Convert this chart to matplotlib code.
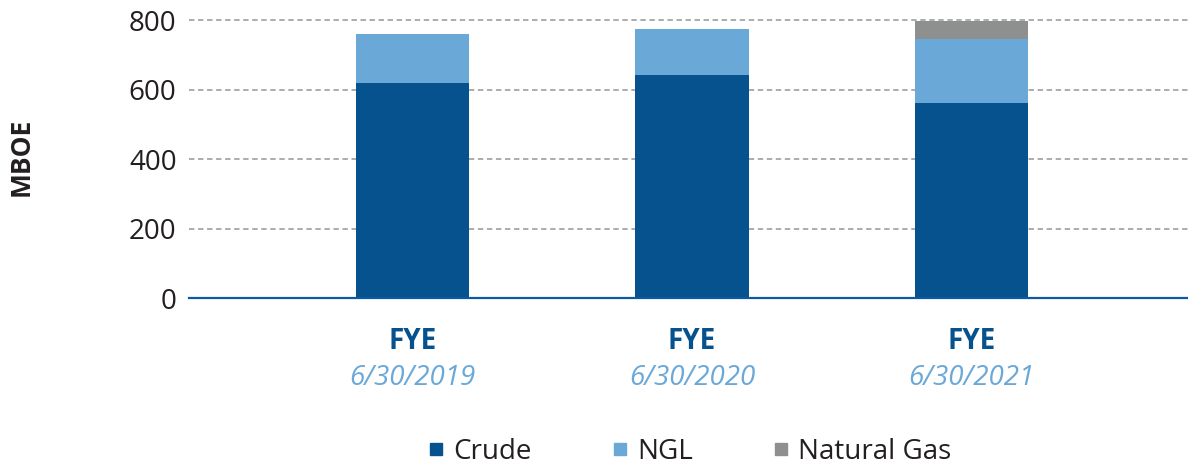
import matplotlib
matplotlib.use('Agg')
import matplotlib.pyplot as plt
from matplotlib.lines import Line2D
import numpy as np

# values (MBOE)
years = ['6/30/2019', '6/30/2020', '6/30/2021']
crude = [620, 643, 562]
ngl = [140, 132, 183]
natural_gas = [0, 0, 54]

series_names = ['Crude', 'NGL', 'Natural Gas']
colors = ['#05528F', '#6AA8D8', '#8E8F8F']
yticks = [0, 200, 400, 600, 800]

plt.rcParams['font.family'] = ['Open Sans', 'DejaVu Sans']

fig = plt.figure(figsize=(11.88, 4.67), dpi=100)
ax = fig.add_axes([189 / 1188, 1 - 298.3 / 467, 1 - 189 / 1188, 278 / 467])

x = np.arange(len(years))
width = 0.405
bottom = np.zeros(len(years))
for vals, name, c in zip([crude, ngl, natural_gas], series_names, colors):
    ax.bar(x, vals, width, bottom=bottom, color=c, label=name, zorder=3)
    bottom += np.array(vals)

ax.set_xlim(-0.80, 2.775)
ax.set_ylim(0, 800)
ax.set_yticks(yticks)
ax.tick_params(axis='y', length=0, pad=9, labelsize=20, labelcolor='#231F20')
ax.set_xticks(x)
ax.set_xticklabels([])
ax.tick_params(axis='x', length=0)

for s in ['top', 'right', 'left']:
    ax.spines[s].set_visible(False)
ax.spines['bottom'].set_color('#0B5AA3')
ax.spines['bottom'].set_linewidth(1.6)
ax.spines['bottom'].set_zorder(4)

for t in yticks[1:]:
    ax.axhline(t, color='#A6A6A6', lw=1.3, ls=(0, (3, 2)), zorder=1, clip_on=False)

# two-line category labels
tr = ax.get_xaxis_transform()
for xi, yr in zip(x, years):
    ax.text(xi, -0.156, 'FYE', transform=tr, ha='center', va='center',
            fontsize=20, fontweight='bold', color='#05528F')
    ax.text(xi, -0.287, yr, transform=tr, ha='center', va='center',
            fontsize=20, style='italic', color='#6AA8D8')

fig.text(21 / 1188, 1 - 157 / 467, 'MBOE', rotation=90, ha='center', va='center',
         fontsize=19, fontweight='bold', color='#231F20')

handles = [Line2D([], [], ls='none', marker='s', markersize=8, color=c) for c in colors]
leg = fig.legend(handles, series_names, loc='center', bbox_to_anchor=(691 / 1188, 1 - 452 / 467),
                 ncol=3, frameon=False, fontsize=20, handlelength=0.4, handletextpad=0.4,
                 columnspacing=3.0, borderaxespad=0, borderpad=0)
for t in leg.get_texts():
    t.set_color('#231F20')

fig.savefig('out.png', dpi=100)
